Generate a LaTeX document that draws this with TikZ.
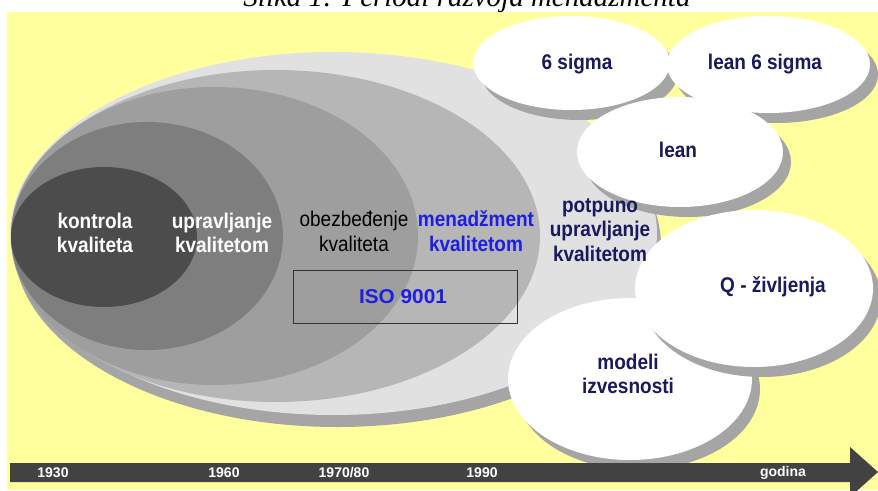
\documentclass[tikz,border=0pt]{standalone}
\usepackage{graphicx}
\usepackage{fontspec}
\setmainfont{Liberation Serif}
\newfontfamily\arialf{Liberation Sans}
\definecolor{bgyellow}{RGB}{255,255,158}
\definecolor{lay1}{RGB}{225,225,225}
\definecolor{lay2}{RGB}{182,182,182}
\definecolor{lay3}{RGB}{158,158,158}
\definecolor{lay4}{RGB}{126,126,126}
\definecolor{lay5}{RGB}{76,76,76}
\definecolor{shade}{RGB}{165,165,165}
\definecolor{navy}{RGB}{25,25,95}
\definecolor{bluetxt}{RGB}{30,30,225}
\definecolor{bardark}{RGB}{66,66,66}
\newcommand\tallbox[1]{\scalebox{1}[1.12]{\begin{tabular}{@{}c@{}}#1\end{tabular}}}
\begin{document}
\begin{tikzpicture}[x=1pt,y=-1pt,
  lbl/.style={font=\arialf\bfseries\fontsize{19}{22.3}\selectfont, inner sep=0pt},
  plainlbl/.style={font=\arialf\fontsize{19}{22.3}\selectfont, inner sep=0pt},
  yearlbl/.style={font=\arialf\bfseries\fontsize{14}{15}\selectfont, text=white, inner sep=0pt},
  bubble/.style={fill=white},
  bubshadow/.style={fill=shade}
]
\useasboundingbox (0,0) rectangle (878,490);
\clip (0,0) rectangle (878,490);
\fill[white] (0,0) rectangle (878,490);
\fill[bgyellow] (7,12) rectangle (878,490);
\node[font=\itshape\fontsize{29}{29}\selectfont, anchor=base, inner sep=0pt] (title) at (467,6) {Slika 1: Periodi razvoja menadžmenta};
% nested ellipses
\fill[bubshadow] (337.5,245.5) ellipse [x radius=323.5pt, y radius=181.5pt];
\fill[lay1] (333.5,233.5) ellipse [x radius=323.5pt, y radius=181.5pt];
\fill[lay2] (275.5,236) ellipse [x radius=264.5pt, y radius=166pt];
\fill[lay3] (214.5,236) ellipse [x radius=203.5pt, y radius=149pt];
\fill[lay4] (147,236) ellipse [x radius=136pt, y radius=114pt];
\fill[lay5] (104,237) ellipse [x radius=93pt, y radius=70pt];
% labels of the layers
\node[lbl, text=white] (kontrola) at (95,235.5) {\tallbox{kontrola\\kvaliteta}};
\node[lbl, text=white] (upravljanje) at (222,235.5) {\tallbox{upravljanje\\kvalitetom}};
\node[plainlbl, text=black] (obezb) at (354,234) {\tallbox{obezbeđenje\\kvaliteta}};
\node[lbl, text=bluetxt] (menadz) at (476,234) {\tallbox{menadžment\\kvalitetom}};
\node[draw=black!80, line width=0.8pt, minimum width=224pt, minimum height=53pt, inner sep=0pt] (isobox) at (405,296.5) {};
\node[font=\arialf\bfseries\fontsize{20}{20}\selectfont, text=bluetxt, inner sep=0pt] (iso) at (403,297) {\scalebox{1.04}[1]{ISO 9001}};
% white bubbles
\fill[bubshadow] (579.5,73) ellipse [x radius=98.5pt, y radius=47pt];
\fill[bubble] (571.5,63) ellipse [x radius=98.5pt, y radius=47pt];
\fill[bubshadow] (776.5,74.5) ellipse [x radius=101.5pt, y radius=48.5pt];
\fill[bubble] (768.5,64.5) ellipse [x radius=101.5pt, y radius=48.5pt];
\fill[bubshadow] (688,162) ellipse [x radius=103pt, y radius=55pt];
\fill[bubble] (680,152) ellipse [x radius=103pt, y radius=55pt];
\fill[bubshadow] (638,389) ellipse [x radius=122pt, y radius=81pt];
\fill[bubble] (630,379) ellipse [x radius=122pt, y radius=81pt];
\fill[bubshadow] (762,298.5) ellipse [x radius=119pt, y radius=78.5pt];
\fill[bubble] (754,288.5) ellipse [x radius=119pt, y radius=78.5pt];
\node[lbl, text=navy] (potpuno) at (600,232) {\tallbox{potpuno\\upravljanje\\kvalitetom}};
\node[lbl, text=navy] (sigma) at (577,65) {\tallbox{6 sigma}};
\node[lbl, text=navy] (leansigma) at (765,65) {\tallbox{lean 6 sigma}};
\node[lbl, text=navy] (lean) at (678,153) {\tallbox{lean}};
\node[lbl, text=navy] (qziv) at (773,288) {\tallbox{Q - življenja}};
\node[lbl, text=navy] (modeli) at (628,376.5) {\tallbox{modeli\\izvesnosti}};
% time axis
\fill[bardark] (10,463) -- (850,463) -- (850,447) -- (878,472) -- (850,497) -- (850,482) -- (10,482) -- cycle;
\node[yearlbl] (y1930) at (53,473) {1930};
\node[yearlbl] (y1960) at (224,473) {1960};
\node[yearlbl] (y1970) at (344,473) {1970/80};
\node[yearlbl] (y1990) at (482,473) {1990};
\node[yearlbl] (godina) at (783,473) {godina};
\end{tikzpicture}
\end{document}
